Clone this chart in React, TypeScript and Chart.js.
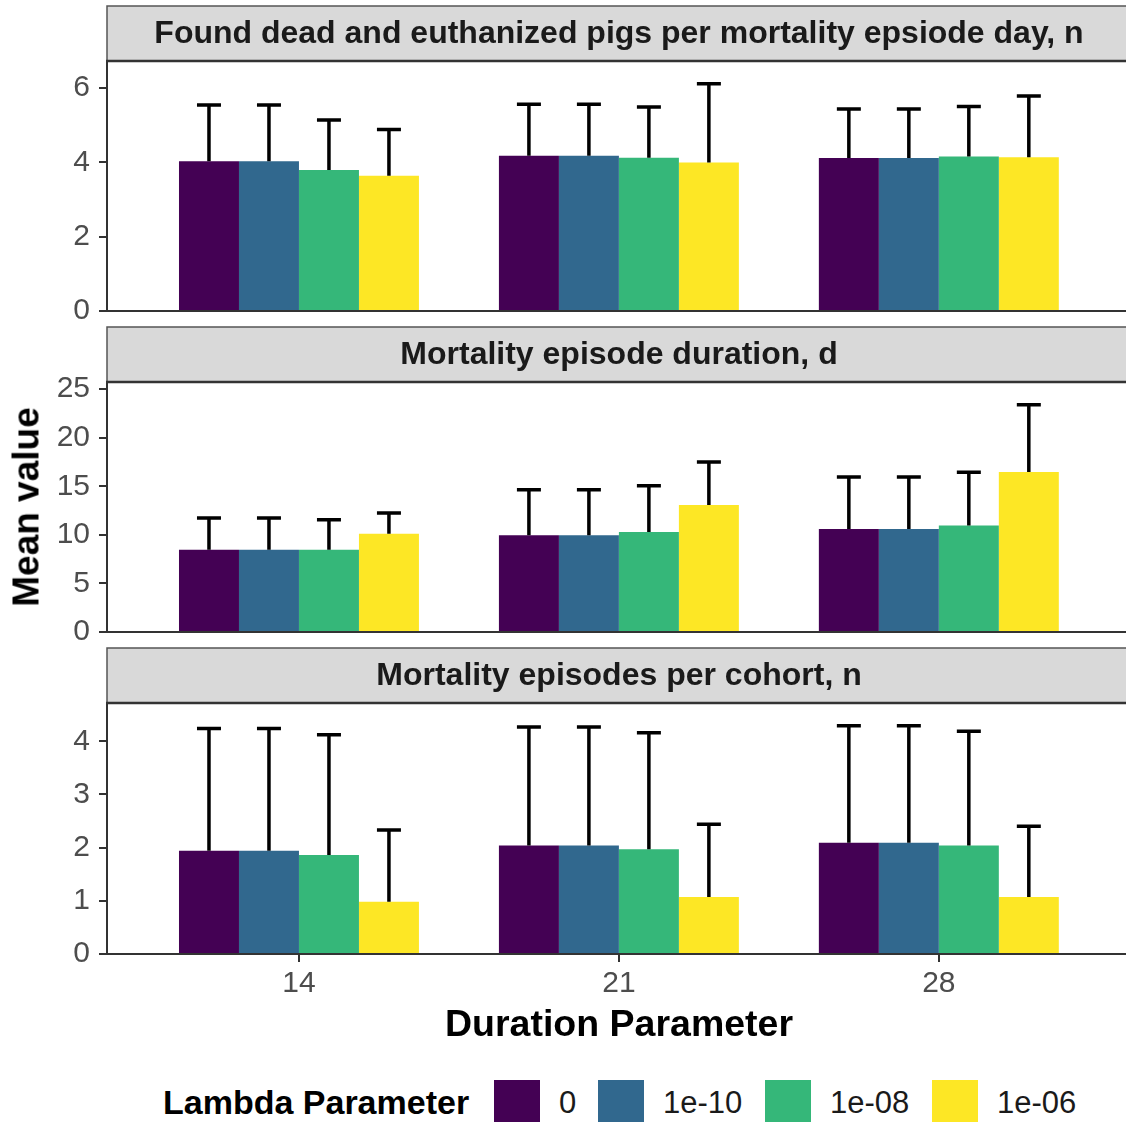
import React, { useEffect, useRef } from "react";
import { Chart, registerables } from "chart.js";

Chart.register(...registerables);

// ---------- DATA ----------
const categories = ["14", "21", "28"];
const lambdaLabels = ["0", "1e-10", "1e-08", "1e-06"];
const lambdaColors = ["#440154", "#31688E", "#35B779", "#FDE725"];

// Panel 1: Found dead and euthanized pigs per mortality episode day, n
const deadMean_l0 = [4.03, 4.18, 4.12];
const deadMean_l1 = [4.03, 4.18, 4.12];
const deadMean_l2 = [3.8, 4.13, 4.16];
const deadMean_l3 = [3.64, 4.0, 4.14];
const deadUpper_l0 = [5.55, 5.57, 5.44];
const deadUpper_l1 = [5.55, 5.57, 5.44];
const deadUpper_l2 = [5.14, 5.49, 5.51];
const deadUpper_l3 = [4.89, 6.12, 5.79];
const deadTicks = [0, 2, 4, 6];

// Panel 2: Mortality episode duration, d
const durMean_l0 = [8.47, 9.95, 10.6];
const durMean_l1 = [8.47, 9.95, 10.6];
const durMean_l2 = [8.47, 10.29, 10.95];
const durMean_l3 = [10.12, 13.07, 16.46];
const durUpper_l0 = [11.73, 14.65, 15.95];
const durUpper_l1 = [11.73, 14.65, 15.95];
const durUpper_l2 = [11.56, 15.06, 16.43];
const durUpper_l3 = [12.25, 17.49, 23.39];
const durTicks = [0, 5, 10, 15, 20, 25];

// Panel 3: Mortality episodes per cohort, n
const epMean_l0 = [1.94, 2.04, 2.09];
const epMean_l1 = [1.94, 2.04, 2.09];
const epMean_l2 = [1.86, 1.97, 2.04];
const epMean_l3 = [0.98, 1.07, 1.07];
const epUpper_l0 = [4.24, 4.27, 4.29];
const epUpper_l1 = [4.24, 4.27, 4.29];
const epUpper_l2 = [4.12, 4.16, 4.19];
const epUpper_l3 = [2.33, 2.44, 2.4];
const epTicks = [0, 1, 2, 3, 4];

const panelTitles = [
  "Found dead and euthanized pigs per mortality epsiode day, n",
  "Mortality episode duration, d",
  "Mortality episodes per cohort, n",
];
const xTitle = "Duration Parameter";
const yTitle = "Mean value";
const legendTitle = "Lambda Parameter";

// ---------- STYLE ----------
const FONT = "'Liberation Sans', Arial, Helvetica, sans-serif";
const W = 1126;
const AXIS_LEFT = 107;

type PanelProps = {
  title: string;
  means: number[][];
  uppers: number[][];
  ticks: number[];
  top: number;
  height: number;
  padTop: number;
  padBottom: number;
  showX: boolean;
};

function Panel(props: PanelProps) {
  const ref = useRef<HTMLCanvasElement | null>(null);
  useEffect(() => {
    const canvas = ref.current;
    if (!canvas) return;
    const { title, means, uppers, ticks, padTop, padBottom, showX } = props;
    const yMax = Math.max(...uppers.flat()) * 1.1;

    const stripPlugin = {
      id: "strip",
      beforeDraw(chart: any) {
        const ctx = chart.ctx;
        const a = chart.chartArea;
        const sTop = padTop - 55;
        ctx.save();
        ctx.fillStyle = "#d9d9d9";
        ctx.fillRect(a.left, sTop, chart.width - a.left + 2, a.top - sTop);
        ctx.strokeStyle = "#555555";
        ctx.lineWidth = 1.5;
        ctx.strokeRect(a.left, sTop, chart.width - a.left + 2, a.top - sTop);
        ctx.fillStyle = "#1a1a1a";
        ctx.font = `bold 32px ${FONT}`;
        ctx.textAlign = "center";
        ctx.textBaseline = "middle";
        ctx.fillText(title, 619, (sTop + a.top) / 2 + 1);
        ctx.restore();
      },
      afterDraw(chart: any) {
        const ctx = chart.ctx;
        const a = chart.chartArea;
        ctx.save();
        ctx.strokeStyle = "#333333";
        ctx.lineWidth = 2.5;
        ctx.beginPath();
        ctx.moveTo(a.left - 1, a.top);
        ctx.lineTo(chart.width, a.top);
        ctx.stroke();
        ctx.restore();
      },
    };

    const errorPlugin = {
      id: "errbars",
      afterDatasetsDraw(chart: any) {
        const ctx = chart.ctx;
        const yScale = chart.scales.y;
        ctx.save();
        ctx.strokeStyle = "#000000";
        ctx.lineWidth = 3.5;
        ctx.lineCap = "butt";
        chart.data.datasets.forEach((ds: any, di: number) => {
          const meta = chart.getDatasetMeta(di);
          meta.data.forEach((bar: any, i: number) => {
            const yTop = yScale.getPixelForValue(ds.upper[i]);
            const half = bar.width * 0.2;
            ctx.beginPath();
            ctx.moveTo(bar.x, bar.y);
            ctx.lineTo(bar.x, yTop);
            ctx.moveTo(bar.x - half, yTop);
            ctx.lineTo(bar.x + half, yTop);
            ctx.stroke();
          });
        });
        ctx.restore();
      },
    };

    const chart = new Chart(canvas, {
      type: "bar",
      data: {
        datasets: means.map((vals, li) => ({
          label: lambdaLabels[li],
          data: vals.map((v, ci) => ({ x: ci + 1, y: v })),
          upper: uppers[li],
          backgroundColor: lambdaColors[li],
          borderWidth: 0,
          categoryPercentage: 0.75,
          barPercentage: 1.0,
        })) as any,
      },
      options: {
        responsive: false,
        animation: false,
        devicePixelRatio: 1,
        layout: { padding: { top: padTop, bottom: padBottom, left: 0, right: 0 } },
        plugins: { legend: { display: false }, tooltip: { enabled: false } },
        scales: {
          x: {
            type: "linear",
            min: 0.4,
            max: 3.585,
            offset: false,
            grid: {
              display: showX,
              offset: false,
              drawOnChartArea: false,
              drawTicks: true,
              tickLength: 8,
              tickColor: "#333333",
              lineWidth: 2,
            },
            border: { display: true, color: "#333333", width: 2 },
            ticks: {
              display: showX,
              padding: 4,
              color: "#4d4d4d",
              font: { family: FONT, size: 30 },
              callback: (v: any) => categories[Math.round(v) - 1] ?? "",
            },
            afterBuildTicks: (s: any) => {
              s.ticks = categories.map((_, i) => ({ value: i + 1 }));
            },
            afterFit: (s: any) => {
              s.height = showX ? 50 : 0;
              s.paddingLeft = 0;
              s.paddingRight = 0;
            },
          },
          y: {
            type: "linear",
            min: 0,
            max: yMax,
            stacked: false,
            grid: {
              display: true,
              drawOnChartArea: false,
              drawTicks: true,
              tickLength: 8,
              tickColor: "#333333",
              lineWidth: 2,
            },
            border: { display: true, color: "#333333", width: 2 },
            ticks: {
              padding: 9,
              color: "#4d4d4d",
              font: { family: FONT, size: 30 },
            },
            afterBuildTicks: (s: any) => {
              s.ticks = ticks.map((t) => ({ value: t }));
            },
            afterFit: (s: any) => {
              s.width = AXIS_LEFT;
              s.paddingTop = 0;
              s.paddingBottom = 0;
            },
          },
        },
      } as any,
      plugins: [stripPlugin, errorPlugin],
    });
    return () => chart.destroy();
  }, []);

  return (
    <canvas
      ref={ref}
      width={W}
      height={props.height}
      style={{ position: "absolute", left: 0, top: props.top, width: W, height: props.height }}
    />
  );
}

export default function App() {
  const textBase: React.CSSProperties = {
    position: "absolute",
    fontFamily: FONT,
    whiteSpace: "nowrap",
    lineHeight: 1,
  };
  const legendKeys = [494, 598, 765, 932];
  const legendLabelX = [559, 663, 830, 997];
  return (
    <div style={{ position: "absolute", left: 0, top: 0, width: W, height: 1122, background: "#ffffff", overflow: "hidden" }}>
      <Panel
        title={panelTitles[0]}
        means={[deadMean_l0, deadMean_l1, deadMean_l2, deadMean_l3]}
        uppers={[deadUpper_l0, deadUpper_l1, deadUpper_l2, deadUpper_l3]}
        ticks={deadTicks}
        top={0}
        height={331}
        padTop={61}
        padBottom={20}
        showX={false}
      />
      <Panel
        title={panelTitles[1]}
        means={[durMean_l0, durMean_l1, durMean_l2, durMean_l3]}
        uppers={[durUpper_l0, durUpper_l1, durUpper_l2, durUpper_l3]}
        ticks={durTicks}
        top={320}
        height={332}
        padTop={62}
        padBottom={20}
        showX={false}
      />
      <Panel
        title={panelTitles[2]}
        means={[epMean_l0, epMean_l1, epMean_l2, epMean_l3]}
        uppers={[epUpper_l0, epUpper_l1, epUpper_l2, epUpper_l3]}
        ticks={epTicks}
        top={641}
        height={363}
        padTop={62}
        padBottom={0}
        showX={true}
      />
      <div
        style={{
          ...textBase,
          left: 26,
          top: 507,
          fontSize: 37,
          fontWeight: "bold",
          color: "#000",
          transform: "translate(-50%, -50%) rotate(-90deg)",
        }}
      >
        {yTitle}
      </div>
      <div
        style={{
          ...textBase,
          left: 619,
          top: 1024,
          fontSize: 37.5,
          fontWeight: "bold",
          color: "#000",
          transform: "translate(-50%, -50%)",
        }}
      >
        {xTitle}
      </div>
      <div
        style={{
          ...textBase,
          left: 163,
          top: 1102,
          fontSize: 34,
          fontWeight: "bold",
          color: "#000",
          transform: "translateY(-50%)",
        }}
      >
        {legendTitle}
      </div>
      {lambdaLabels.map((lab, i) => (
        <React.Fragment key={lab}>
          <div
            style={{
              position: "absolute",
              left: legendKeys[i],
              top: 1080,
              width: 46,
              height: 42,
              background: lambdaColors[i],
            }}
          />
          <div
            style={{
              ...textBase,
              left: legendLabelX[i],
              top: 1102,
              fontSize: 31,
              color: "#1a1a1a",
              transform: "translateY(-50%)",
            }}
          >
            {lab}
          </div>
        </React.Fragment>
      ))}
    </div>
  );
}
